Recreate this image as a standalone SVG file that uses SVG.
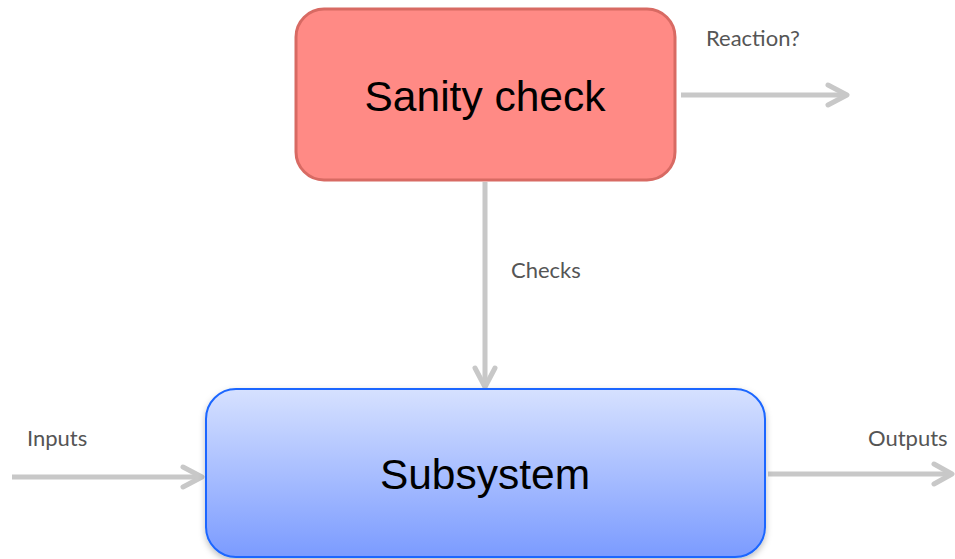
<svg xmlns="http://www.w3.org/2000/svg" width="955" height="559" viewBox="0 0 955 559">
<style>
.lbl{font-family:Lato,"Open Sans",sans-serif;font-size:22px;fill:#555555}
.node{font-family:"Liberation Sans",Arial,sans-serif;font-size:42.5px;fill:#000000;text-anchor:middle}
.conn{stroke:#c8c8c8;stroke-width:5;fill:none;stroke-linecap:butt}
.head{stroke:#c8c8c8;stroke-width:5;fill:none;stroke-linecap:round;stroke-linejoin:round}
</style>
<defs>
<linearGradient id="blue" x1="0" y1="0" x2="0" y2="1">
<stop offset="0" stop-color="#d6e1ff"/>
<stop offset="1" stop-color="#7b9bff"/>
</linearGradient>
<filter id="sh" x="-10%" y="-10%" width="120%" height="130%">
<feDropShadow dx="0" dy="3" stdDeviation="3" flood-color="#000" flood-opacity="0.25"/>
</filter>
</defs>
<g id="connectors">
<g id="reaction">
<line class="conn" x1="681" y1="95" x2="846" y2="95"/>
<polyline class="head" points="828,85 847,95 828,105"/>
<text class="lbl" x="706" y="46">Reaction?</text>
</g>
<g id="checks">
<line class="conn" x1="485" y1="182" x2="485" y2="386"/>
<polyline class="head" points="475,368 485,387 495,368"/>
<text class="lbl" x="511" y="278">Checks</text>
</g>
<g id="inputs">
<line class="conn" x1="12" y1="477" x2="201" y2="477"/>
<polyline class="head" points="183,467 202,477 183,487"/>
<text class="lbl" x="27" y="446">Inputs</text>
</g>
<g id="outputs">
<line class="conn" x1="768" y1="474" x2="951" y2="474"/>
<polyline class="head" points="934,464 952,474 934,484"/>
<text class="lbl" x="868" y="446">Outputs</text>
</g>
</g>
<g id="sanity">
<rect x="296" y="9" width="379" height="171" rx="28" ry="28" fill="#ff8a85" stroke="#d86a63" stroke-width="3"/>
<text class="node" x="485" y="111">Sanity check</text>
</g>
<g id="subsystem">
<rect x="206" y="389" width="559" height="168" rx="30" ry="30" fill="url(#blue)" stroke="#1a66ff" stroke-width="2" filter="url(#sh)"/>
<text class="node" x="485" y="489">Subsystem</text>
</g>
</svg>
